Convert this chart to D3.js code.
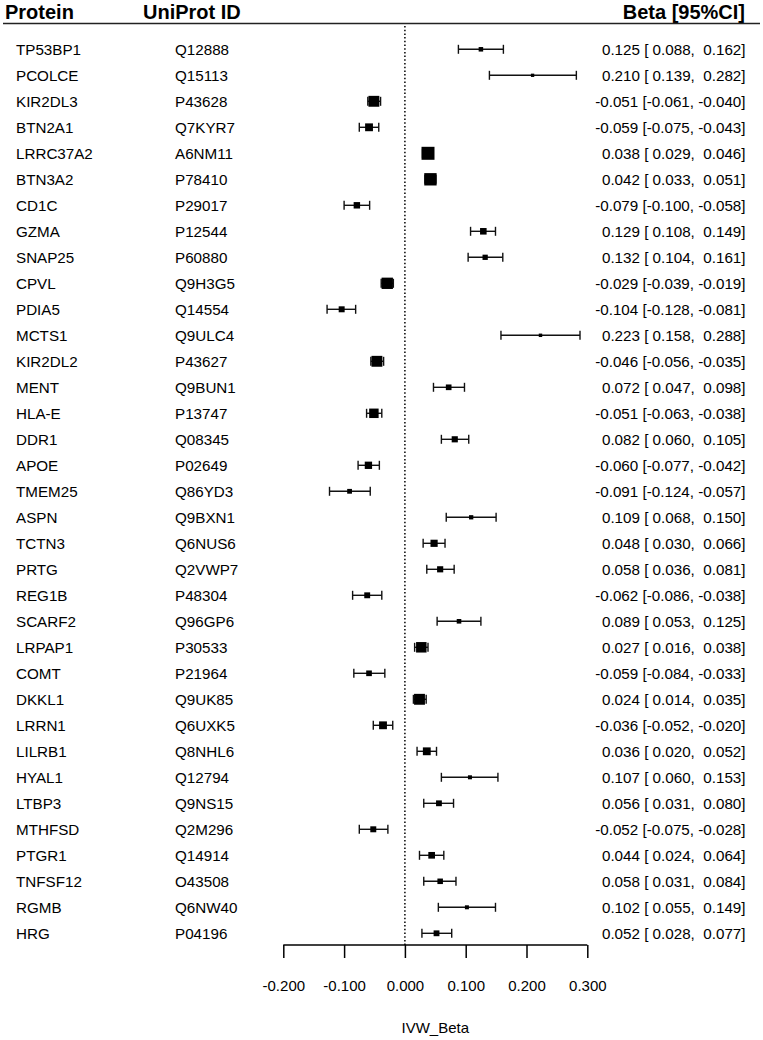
<!DOCTYPE html>
<html>
<head>
<meta charset="utf-8">
<script src="https://cdn.jsdelivr.net/npm/d3@7"></script>
<style>
  body { margin: 0; background: #fff; }
  text { font-family: "Liberation Sans", Arial, sans-serif; fill: #000; white-space: pre; }
</style>
</head>
<body>
<div id="chart"></div>
<script>
var proteins = ["TP53BP1","PCOLCE","KIR2DL3","BTN2A1","LRRC37A2","BTN3A2","CD1C","GZMA","SNAP25","CPVL",
  "PDIA5","MCTS1","KIR2DL2","MENT","HLA-E","DDR1","APOE","TMEM25","ASPN","TCTN3",
  "PRTG","REG1B","SCARF2","LRPAP1","COMT","DKKL1","LRRN1","LILRB1","HYAL1","LTBP3",
  "MTHFSD","PTGR1","TNFSF12","RGMB","HRG"];
var uniprot = ["Q12888","Q15113","P43628","Q7KYR7","A6NM11","P78410","P29017","P12544","P60880","Q9H3G5",
  "Q14554","Q9ULC4","P43627","Q9BUN1","P13747","Q08345","P02649","Q86YD3","Q9BXN1","Q6NUS6",
  "Q2VWP7","P48304","Q96GP6","P30533","P21964","Q9UK85","Q6UXK5","Q8NHL6","Q12794","Q9NS15",
  "Q2M296","Q14914","O43508","Q6NW40","P04196"];
var beta = [0.125,0.210,-0.051,-0.059,0.038,0.042,-0.079,0.129,0.132,-0.029,
  -0.104,0.223,-0.046,0.072,-0.051,0.082,-0.060,-0.091,0.109,0.048,
  0.058,-0.062,0.089,0.027,-0.059,0.024,-0.036,0.036,0.107,0.056,
  -0.052,0.044,0.058,0.102,0.052];
var lower = [0.088,0.139,-0.061,-0.075,0.029,0.033,-0.100,0.108,0.104,-0.039,
  -0.128,0.158,-0.056,0.047,-0.063,0.060,-0.077,-0.124,0.068,0.030,
  0.036,-0.086,0.053,0.016,-0.084,0.014,-0.052,0.020,0.060,0.031,
  -0.075,0.024,0.031,0.055,0.028];
var upper = [0.162,0.282,-0.040,-0.043,0.046,0.051,-0.058,0.149,0.161,-0.019,
  -0.081,0.288,-0.035,0.098,-0.038,0.105,-0.042,-0.057,0.150,0.066,
  0.081,-0.038,0.125,0.038,-0.033,0.035,-0.020,0.052,0.153,0.080,
  -0.028,0.064,0.084,0.149,0.077];
var tickValues = [-0.2,-0.1,0,0.1,0.2,0.3];
var headers = ["Protein","UniProt ID","Beta [95%CI]"];
var xTitle = "IVW_Beta";

var width = 763, height = 1040;

var svg = d3.select("#chart").append("svg")
  .attr("width", width)
  .attr("height", height);

var rows = proteins.map(function(p, i) {
  return {protein: p, id: uniprot[i], b: beta[i], lo: lower[i], hi: upper[i]};
});

var x = d3.scaleLinear().domain([-0.2, 0.3]).range([283.3, 587.3]);
var y = d3.scaleBand().domain(d3.range(rows.length)).range([36.3, 36.3 + 26 * rows.length]);
var rowY = function(i) { return y(i) + y.bandwidth() / 2; };
// box size from precision (1 / CI width)
var boxSize = d3.scaleLinear().domain([0, 60]).range([2, 13.2]);

var axisY = 945;

// header
svg.append("text").attr("x", 5).attr("y", 18.5).attr("font-size", 20).attr("font-weight", "bold").text(headers[0]);
svg.append("text").attr("x", 143).attr("y", 18.5).attr("font-size", 20).attr("font-weight", "bold").text(headers[1]);
svg.append("text").attr("x", 745).attr("y", 18.5).attr("font-size", 20).attr("font-weight", "bold")
  .attr("text-anchor", "end").text(headers[2]);
svg.append("line").attr("x1", 3).attr("x2", 760).attr("y1", 23.5).attr("y2", 23.5)
  .attr("stroke", "#222").attr("stroke-width", 1.5);

// reference line
svg.append("line")
  .attr("x1", x(0)).attr("x2", x(0))
  .attr("y1", 26).attr("y2", axisY)
  .attr("stroke", "#000").attr("stroke-width", 1.5)
  .attr("stroke-dasharray", "1.5,2.2");

// plain hyphen minus like R output
var loc = d3.formatLocale({decimal: ".", thousands: ",", grouping: [3], currency: ["", ""], minus: "-"});
var fmt = loc.format(".3f");
function pad(v) { var s = fmt(v); return v < 0 ? s : " " + s; }

var row = svg.selectAll(".row").data(rows).enter().append("g")
  .attr("class", "row")
  .attr("transform", function(d, i) { return "translate(0," + rowY(i) + ")"; });

row.append("text").attr("x", 16).attr("y", 5.5).attr("font-size", 15.2).text(function(d) { return d.protein; });
row.append("text").attr("x", 175).attr("y", 5.5).attr("font-size", 15.2).text(function(d) { return d.id; });
row.append("text").attr("x", 745.5).attr("y", 5.5).attr("font-size", 15.2).attr("text-anchor", "end")
  .text(function(d) { return fmt(d.b) + " [" + pad(d.lo) + ", " + pad(d.hi) + "]"; });

row.append("line")
  .attr("x1", function(d) { return x(d.lo); })
  .attr("x2", function(d) { return x(d.hi); })
  .attr("stroke", "#111").attr("stroke-width", 1.4);
row.selectAll(".cap").data(function(d) { return [d.lo, d.hi]; }).enter().append("line")
  .attr("class", "cap")
  .attr("x1", function(v) { return x(v); }).attr("x2", function(v) { return x(v); })
  .attr("y1", -4.5).attr("y2", 4.5)
  .attr("stroke", "#111").attr("stroke-width", 1.4);
row.append("rect")
  .attr("x", function(d) { return x(d.b) - boxSize(1 / (d.hi - d.lo)) / 2; })
  .attr("y", function(d) { return -boxSize(1 / (d.hi - d.lo)) / 2; })
  .attr("width", function(d) { return boxSize(1 / (d.hi - d.lo)); })
  .attr("height", function(d) { return boxSize(1 / (d.hi - d.lo)); })
  .attr("fill", "#000");

// x axis
var axis = d3.axisBottom(x).tickValues(tickValues).tickFormat(fmt).tickSize(13).tickPadding(22);
var gAxis = svg.append("g").attr("transform", "translate(0," + axisY + ")").call(axis);
gAxis.select(".domain").attr("stroke", "#000").attr("stroke-width", 1.5)
  .attr("d", "M" + x(-0.2) + ",0H" + x(0.3));
gAxis.selectAll(".tick line").attr("stroke", "#000").attr("stroke-width", 1.5);
gAxis.selectAll(".tick text").attr("font-size", 15).attr("font-family", "'Liberation Sans', Arial, sans-serif").attr("fill", "#000");

svg.append("text").attr("x", x(0.05)).attr("y", 1033).attr("font-size", 15)
  .attr("text-anchor", "middle").text(xTitle);
</script>
</body>
</html>
